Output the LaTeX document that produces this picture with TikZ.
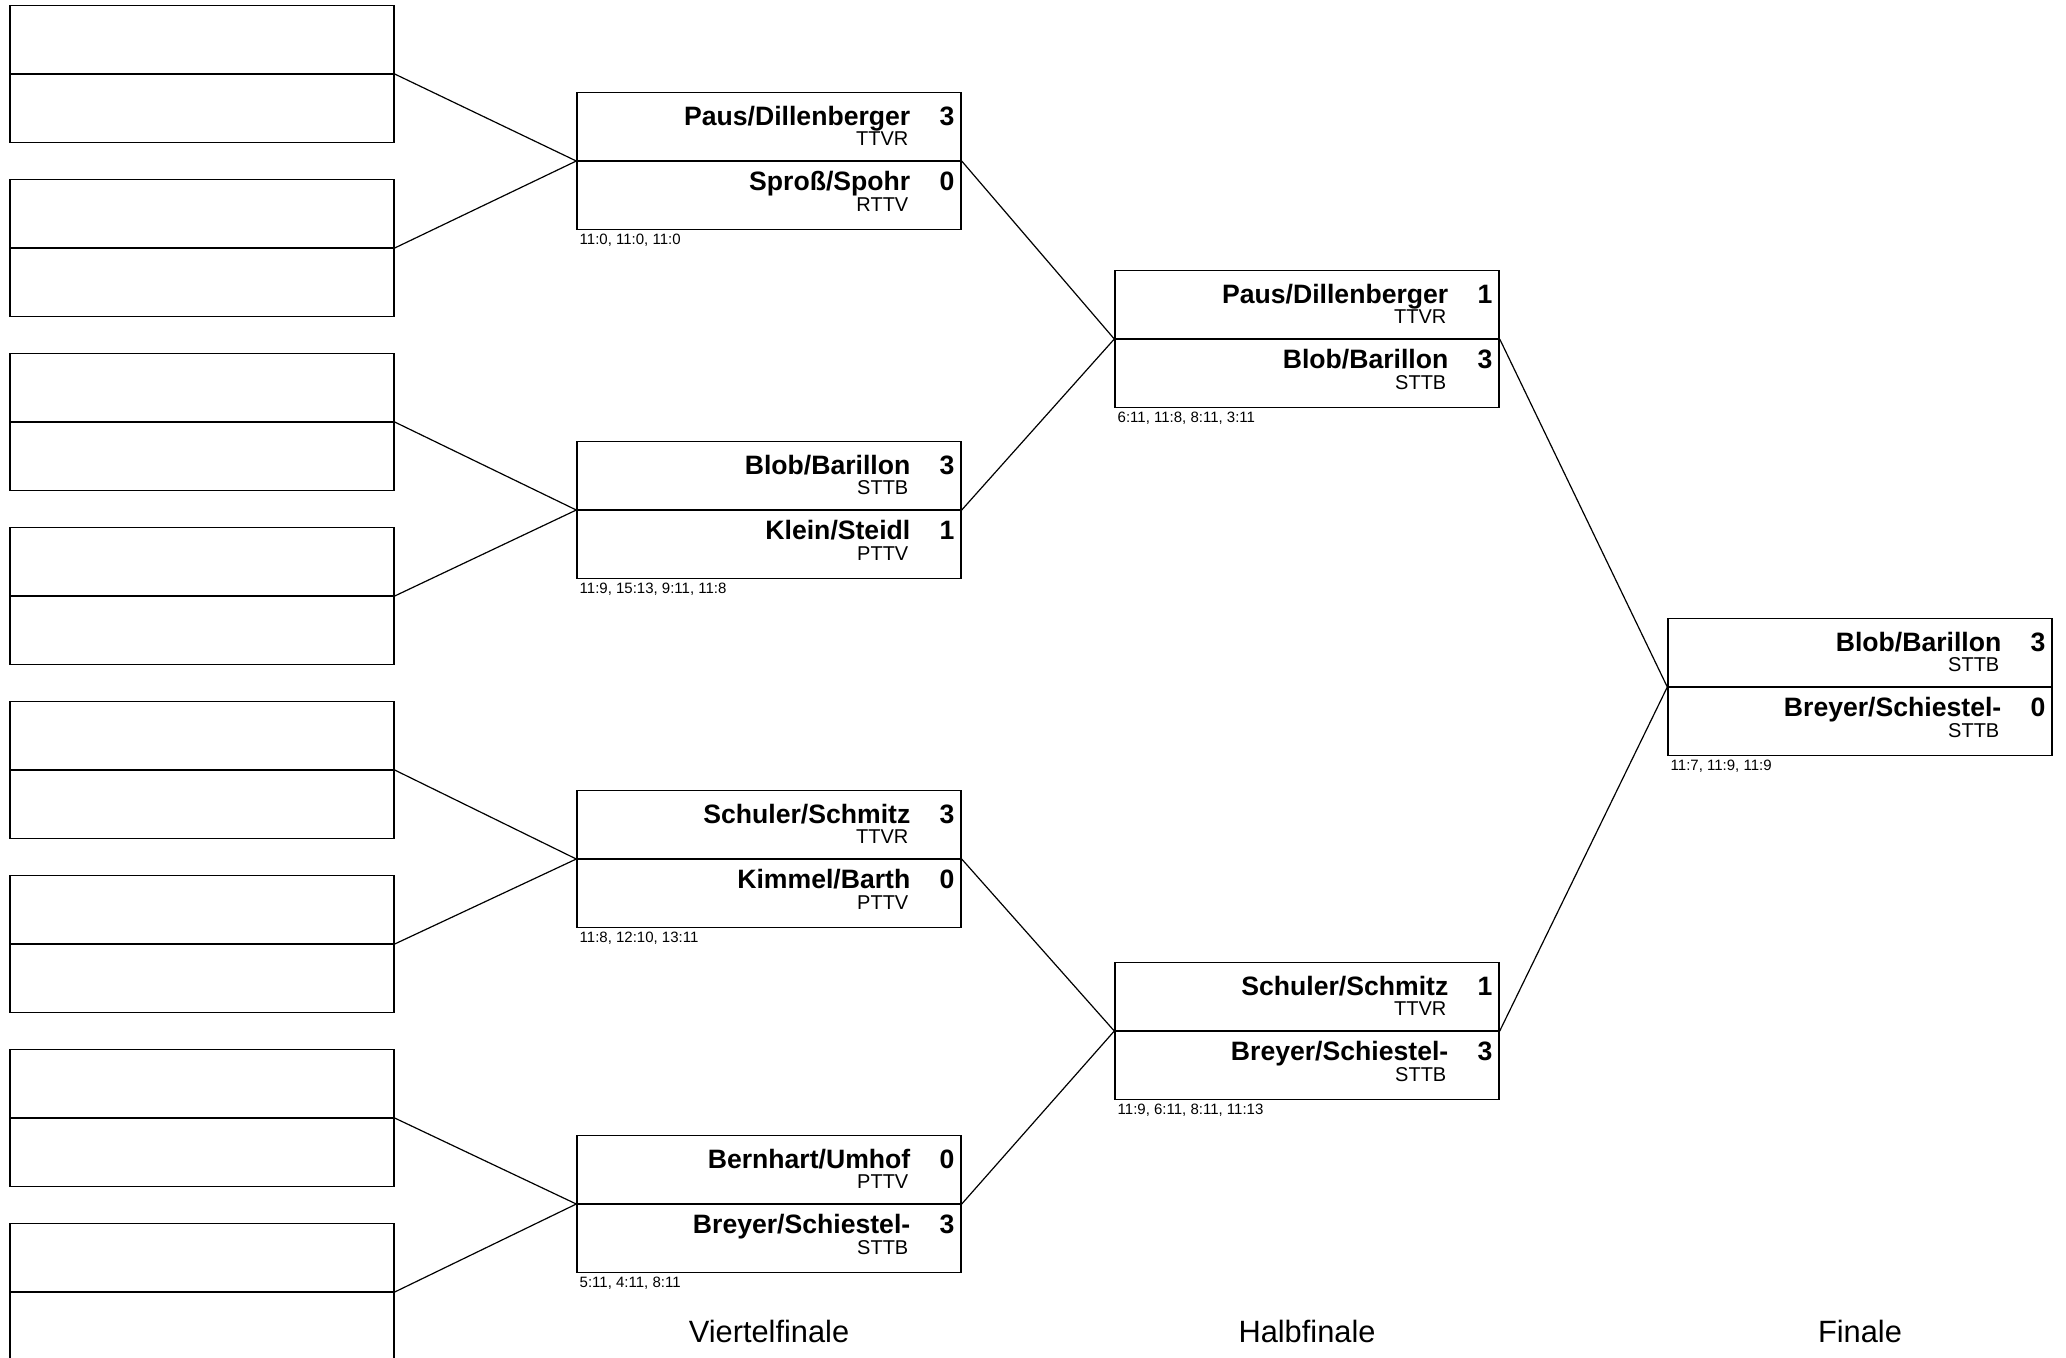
\documentclass[tikz,border=0pt]{standalone}
\usepackage{fontspec}
\setmainfont{Liberation Sans}
\usepackage{tikz}
\usetikzlibrary{matrix}

\begin{document}
\begin{tikzpicture}[
  x=0.5pt, y=-0.5pt,
  pair/.style={
    matrix of nodes,
    nodes in empty cells,
    row sep=0pt,
    inner sep=0pt,
    nodes={draw, line width=0.7pt, minimum width=192pt, minimum height=34pt, inner sep=0pt},
    },
  team/.style={font=\bfseries\fontsize{13.3}{15}\selectfont, anchor=base east, inner sep=0pt, xshift=-25.5pt, yshift=#1},
  pts/.style={font=\bfseries\fontsize{13.3}{15}\selectfont, anchor=base east, inner sep=0pt, xshift=-3.5pt, yshift=#1},
  club/.style={font=\fontsize{10}{12}\selectfont, anchor=base east, inner sep=0pt, xshift=-26.5pt, yshift=#1},
  result/.style={font=\fontsize{7.5}{9}\selectfont, anchor=base west, inner sep=0pt, xshift=1.5pt, yshift=-7pt},
  round/.style={font=\fontsize{15.4}{18}\selectfont, anchor=base},
  link/.style={line width=0.6pt},
  ]
  \useasboundingbox (0,0) rectangle (2066,1357);

  % erste Runde
  \matrix[pair] (r1) at (202,74) { \\ \\ };
  \matrix[pair] (r2) at (202,248) { \\ \\ };
  \matrix[pair] (r3) at (202,422) { \\ \\ };
  \matrix[pair] (r4) at (202,596) { \\ \\ };
  \matrix[pair] (r5) at (202,770) { \\ \\ };
  \matrix[pair] (r6) at (202,944) { \\ \\ };
  \matrix[pair] (r7) at (202,1118) { \\ \\ };
  \matrix[pair] (r8) at (202,1292) { \\ \\ };

  % Viertelfinale
  \matrix[pair] (qf1) at (769,161) { \\ \\ };
  \node[team=-17pt] (qf1n1) at (qf1-1-1.north east) {Paus/Dillenberger};
  \node[club=-26.7pt] (qf1c1) at (qf1-1-1.north east) {TTVR};
  \node[pts=-17pt] (qf1p1) at (qf1-1-1.north east) {3};
  \node[team=-14.8pt] (qf1n2) at (qf1-2-1.north east) {Sproß/Spohr};
  \node[club=-25.3pt] (qf1c2) at (qf1-2-1.north east) {RTTV};
  \node[pts=-14.8pt] (qf1p2) at (qf1-2-1.north east) {0};
  \node[result] (qf1r) at (qf1-2-1.south west) {11:0, 11:0, 11:0};

  \matrix[pair] (qf2) at (769,510) { \\ \\ };
  \node[team=-17pt] (qf2n1) at (qf2-1-1.north east) {Blob/Barillon};
  \node[club=-26.7pt] (qf2c1) at (qf2-1-1.north east) {STTB};
  \node[pts=-17pt] (qf2p1) at (qf2-1-1.north east) {3};
  \node[team=-14.8pt] (qf2n2) at (qf2-2-1.north east) {Klein/Steidl};
  \node[club=-25.3pt] (qf2c2) at (qf2-2-1.north east) {PTTV};
  \node[pts=-14.8pt] (qf2p2) at (qf2-2-1.north east) {1};
  \node[result] (qf2r) at (qf2-2-1.south west) {11:9, 15:13, 9:11, 11:8};

  \matrix[pair] (qf3) at (769,859) { \\ \\ };
  \node[team=-17pt] (qf3n1) at (qf3-1-1.north east) {Schuler/Schmitz};
  \node[club=-26.7pt] (qf3c1) at (qf3-1-1.north east) {TTVR};
  \node[pts=-17pt] (qf3p1) at (qf3-1-1.north east) {3};
  \node[team=-14.8pt] (qf3n2) at (qf3-2-1.north east) {Kimmel/Barth};
  \node[club=-25.3pt] (qf3c2) at (qf3-2-1.north east) {PTTV};
  \node[pts=-14.8pt] (qf3p2) at (qf3-2-1.north east) {0};
  \node[result] (qf3r) at (qf3-2-1.south west) {11:8, 12:10, 13:11};

  \matrix[pair] (qf4) at (769,1204) { \\ \\ };
  \node[team=-17pt] (qf4n1) at (qf4-1-1.north east) {Bernhart/Umhof};
  \node[club=-26.7pt] (qf4c1) at (qf4-1-1.north east) {PTTV};
  \node[pts=-17pt] (qf4p1) at (qf4-1-1.north east) {0};
  \node[team=-14.8pt] (qf4n2) at (qf4-2-1.north east) {Breyer/Schiestel-};
  \node[club=-25.3pt] (qf4c2) at (qf4-2-1.north east) {STTB};
  \node[pts=-14.8pt] (qf4p2) at (qf4-2-1.north east) {3};
  \node[result] (qf4r) at (qf4-2-1.south west) {5:11, 4:11, 8:11};

  % Halbfinale
  \matrix[pair] (sf1) at (1307,339) { \\ \\ };
  \node[team=-17pt] (sf1n1) at (sf1-1-1.north east) {Paus/Dillenberger};
  \node[club=-26.7pt] (sf1c1) at (sf1-1-1.north east) {TTVR};
  \node[pts=-17pt] (sf1p1) at (sf1-1-1.north east) {1};
  \node[team=-14.8pt] (sf1n2) at (sf1-2-1.north east) {Blob/Barillon};
  \node[club=-25.3pt] (sf1c2) at (sf1-2-1.north east) {STTB};
  \node[pts=-14.8pt] (sf1p2) at (sf1-2-1.north east) {3};
  \node[result] (sf1r) at (sf1-2-1.south west) {6:11, 11:8, 8:11, 3:11};

  \matrix[pair] (sf2) at (1307,1031) { \\ \\ };
  \node[team=-17pt] (sf2n1) at (sf2-1-1.north east) {Schuler/Schmitz};
  \node[club=-26.7pt] (sf2c1) at (sf2-1-1.north east) {TTVR};
  \node[pts=-17pt] (sf2p1) at (sf2-1-1.north east) {1};
  \node[team=-14.8pt] (sf2n2) at (sf2-2-1.north east) {Breyer/Schiestel-};
  \node[club=-25.3pt] (sf2c2) at (sf2-2-1.north east) {STTB};
  \node[pts=-14.8pt] (sf2p2) at (sf2-2-1.north east) {3};
  \node[result] (sf2r) at (sf2-2-1.south west) {11:9, 6:11, 8:11, 11:13};

  % Finale
  \matrix[pair] (fin) at (1860,687) { \\ \\ };
  \node[team=-17pt] (finn1) at (fin-1-1.north east) {Blob/Barillon};
  \node[club=-26.7pt] (finc1) at (fin-1-1.north east) {STTB};
  \node[pts=-17pt] (finp1) at (fin-1-1.north east) {3};
  \node[team=-14.8pt] (finn2) at (fin-2-1.north east) {Breyer/Schiestel-};
  \node[club=-25.3pt] (finc2) at (fin-2-1.north east) {STTB};
  \node[pts=-14.8pt] (finp2) at (fin-2-1.north east) {0};
  \node[result] (finr) at (fin-2-1.south west) {11:7, 11:9, 11:9};

  % Linien
  \draw[link] (r1-1-1.south east) -- (qf1-1-1.south west);
  \draw[link] (r2-1-1.south east) -- (qf1-1-1.south west);
  \draw[link] (r3-1-1.south east) -- (qf2-1-1.south west);
  \draw[link] (r4-1-1.south east) -- (qf2-1-1.south west);
  \draw[link] (r5-1-1.south east) -- (qf3-1-1.south west);
  \draw[link] (r6-1-1.south east) -- (qf3-1-1.south west);
  \draw[link] (r7-1-1.south east) -- (qf4-1-1.south west);
  \draw[link] (r8-1-1.south east) -- (qf4-1-1.south west);
  \draw[link] (qf1-1-1.south east) -- (sf1-1-1.south west);
  \draw[link] (qf2-1-1.south east) -- (sf1-1-1.south west);
  \draw[link] (qf3-1-1.south east) -- (sf2-1-1.south west);
  \draw[link] (qf4-1-1.south east) -- (sf2-1-1.south west);
  \draw[link] (sf1-1-1.south east) -- (fin-1-1.south west);
  \draw[link] (sf2-1-1.south east) -- (fin-1-1.south west);

  \node[round] (vf) at (769,1342) {Viertelfinale};
  \node[round] (hf) at (1307,1342) {Halbfinale};
  \node[round] (f) at (1860,1342) {Finale};
\end{tikzpicture}
\end{document}
